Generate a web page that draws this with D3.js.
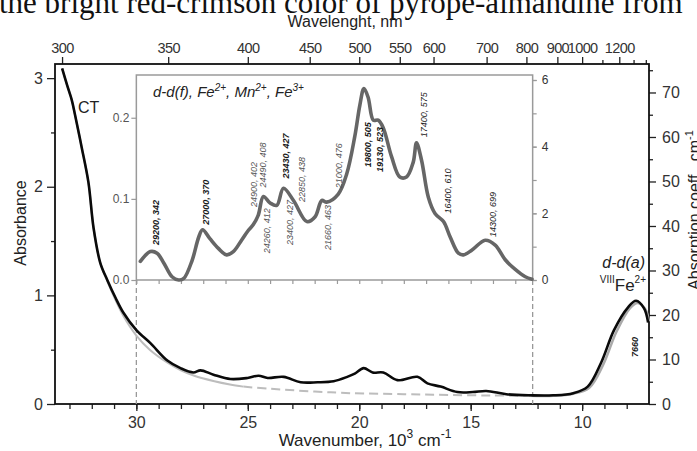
<!DOCTYPE html>
<html>
<head>
<meta charset="utf-8">
<script src="https://cdn.jsdelivr.net/npm/d3@7"></script>
<style>
body { margin: 0; background: #fff; }
text { font-family: Arial, 'Liberation Sans', sans-serif; }
</style>
</head>
<body>
<script>
/* global d3 */

// measured spectrum (wavenumber 10^3 cm-1, absorbance)
const mainWn = [33.33, 33.10, 32.90, 32.75, 32.45, 32.15, 31.92, 31.62, 31.30, 30.94, 30.58, 30.00, 29.37, 28.61, 28.02, 27.44, 27.12, 26.54, 25.78, 25.01, 24.52, 24.11, 23.39, 22.63, 21.87, 21.15, 20.54, 20.20, 19.80, 19.40, 18.92, 18.29, 17.39, 16.94, 16.35, 15.60, 14.90, 14.30, 13.40, 12.30, 11.30, 10.40, 9.75, 9.15, 8.57, 7.94, 7.58, 7.22, 7.04]
const mainAbs = [3.09, 2.93, 2.80, 2.66, 2.36, 2.04, 1.62, 1.30, 1.14, 0.98, 0.84, 0.68, 0.56, 0.40, 0.33, 0.29, 0.31, 0.27, 0.23, 0.24, 0.26, 0.24, 0.25, 0.20, 0.20, 0.21, 0.25, 0.28, 0.33, 0.29, 0.29, 0.22, 0.25, 0.19, 0.16, 0.11, 0.11, 0.12, 0.09, 0.08, 0.08, 0.10, 0.16, 0.38, 0.68, 0.89, 0.95, 0.88, 0.75]

// smooth background (solid / dashed / solid)
const fitWn = [33.33, 33.10, 32.90, 32.75, 32.45, 32.15, 31.92, 31.62, 31.30, 30.94, 30.58, 30.00, 29.40, 28.60, 28.00, 27.40, 26.50, 25.80, 25.20]
const fitAbs = [3.09, 2.93, 2.80, 2.66, 2.36, 2.04, 1.62, 1.30, 1.13, 0.96, 0.81, 0.63, 0.50, 0.38, 0.31, 0.26, 0.21, 0.18, 0.16]
const dashWn = [25.20, 24.00, 22.00, 20.40, 18.00, 16.00, 14.00, 12.40]
const dashAbs = [0.16, 0.14, 0.115, 0.10, 0.09, 0.083, 0.078, 0.076]
const tailWn = [12.40, 11.30, 10.40, 9.68, 9.06, 8.47, 7.86, 7.50, 7.16, 7.00]
const tailAbs = [0.076, 0.075, 0.095, 0.15, 0.36, 0.66, 0.88, 0.93, 0.87, 0.76]

// inset difference spectrum
const insetWn = [29.82, 29.37, 29.07, 28.77, 28.40, 28.10, 27.87, 27.50, 27.20, 27.03, 26.70, 26.32, 25.95, 25.65, 25.28, 24.98, 24.76, 24.53, 24.30, 24.00, 23.70, 23.40, 22.95, 22.35, 21.98, 21.68, 21.46, 20.94, 20.56, 20.20, 19.97, 19.79, 19.60, 19.37, 19.15, 18.93, 18.55, 18.18, 17.88, 17.58, 17.43, 17.20, 16.90, 16.60, 16.22, 15.92, 15.55, 15.32, 14.94, 14.35, 13.90, 13.45, 13.00, 12.55, 12.25]
const insetAbs = [0.023, 0.035, 0.033, 0.021, 0.004, 0.000, 0.002, 0.024, 0.053, 0.062, 0.051, 0.039, 0.031, 0.035, 0.049, 0.061, 0.068, 0.080, 0.103, 0.095, 0.092, 0.113, 0.098, 0.072, 0.078, 0.098, 0.096, 0.106, 0.131, 0.177, 0.216, 0.236, 0.225, 0.197, 0.197, 0.188, 0.152, 0.127, 0.127, 0.145, 0.169, 0.147, 0.102, 0.082, 0.072, 0.053, 0.033, 0.031, 0.037, 0.049, 0.043, 0.025, 0.013, 0.004, 0.001]

// peak annotations in the inset: text, wavenumber, level where the label starts
const peakText = ['29200, 342', '27000, 370', '24900, 402', '24490, 408', '24260, 412', '23430, 427', '23400, 427', '22850, 438', '21660, 463', '21000, 476', '19800, 505', '19130, 523', '17400, 575', '16400, 610', '14300, 699']
const peakWn = [29.2, 27.0, 24.9, 24.49, 24.26, 23.43, 23.4, 22.85, 21.66, 21.0, 19.8, 19.13, 17.4, 16.4, 14.3]
const peakLevel = [0.043, 0.068, 0.090, 0.114, 0.033, 0.125, 0.043, 0.096, 0.037, 0.113, 0.139, 0.133, 0.176, 0.082, 0.053]

// tick values
const wnTicks = [30, 25, 20, 15, 10]
const absTicks = [0, 1, 2, 3]
const coeffTicks = [0, 10, 20, 30, 40, 50, 60, 70]
const nmTicks = [300, 350, 400, 450, 500, 550, 600, 700, 800, 900, 1000, 1200]
const nmMinor = [1100, 1300, 1400]
const insetLeftTicks = [0, 0.1, 0.2]
const insetRightTicks = [0, 2, 4, 6]

const width = 697, height = 451

const svg = d3.select('body')
    .append('svg')
    .attr('width', width)
    .attr('height', height)
    .style('background', '#fff')

const x = d3.scaleLinear().domain([33.65, 7.0]).range([55, 649])
const yAbs = d3.scaleLinear().domain([0, 3.13]).range([404, 64])
const yCoeff = d3.scaleLinear().domain([0, 76.4]).range([404, 64])
const yIn = d3.scaleLinear().domain([0, 0.2527]).range([280, 75])
const yInR = d3.scaleLinear().domain([0, 6.15]).range([280, 75])

// caption cut by the top edge
svg.append('text')
    .attr('x', -1).attr('y', 13)
    .style('font-family', "'Liberation Serif', 'Times New Roman', serif")
    .style('font-size', '31px')
    .attr('fill', '#111')
    .text('the bright red-crimson color of pyrope-almandine from')

let styleAxis = (g, size) => {
    g.select('.domain').remove()
    g.selectAll('line').attr('stroke', '#222').attr('stroke-width', 1.3)
    g.selectAll('text').attr('fill', '#333').style('font-size', size + 'px')
}

// main axes
svg.append('g').attr('transform', 'translate(0,404)')
    .call(d3.axisBottom(x).tickValues(d3.range(8, 34)).tickFormat('').tickSize(5).tickSizeOuter(0))
    .call(g => styleAxis(g, 16))
svg.append('g').attr('transform', 'translate(0,404)')
    .call(d3.axisBottom(x).tickValues(wnTicks).tickFormat(d3.format('d')).tickSize(7).tickPadding(6).tickSizeOuter(0))
    .call(g => styleAxis(g, 16))

svg.append('g').attr('transform', 'translate(0,64)')
    .call(d3.axisTop(x).tickValues(nmMinor.map(n => 1e4 / n)).tickFormat('').tickSize(4).tickSizeOuter(0))
    .call(g => styleAxis(g, 15))
svg.append('g').attr('transform', 'translate(0,64)')
    .call(d3.axisTop(x).tickValues(nmTicks.map(n => 1e4 / n)).tickFormat(v => Math.round(1e4 / v)).tickSize(7).tickPadding(4).tickSizeOuter(0))
    .call(g => styleAxis(g, 14.5))
    .call(g => g.selectAll('text').attr('letter-spacing', '-0.6px'))

svg.append('g').attr('transform', 'translate(55,0)')
    .call(d3.axisLeft(yAbs).tickValues([0.5, 1.5, 2.5]).tickFormat('').tickSize(4).tickSizeOuter(0))
    .call(g => styleAxis(g, 16))
svg.append('g').attr('transform', 'translate(55,0)')
    .call(d3.axisLeft(yAbs).tickValues(absTicks).tickFormat(d3.format('d')).tickSize(8).tickPadding(4).tickSizeOuter(0))
    .call(g => styleAxis(g, 16))

svg.append('g').attr('transform', 'translate(649,0)')
    .call(d3.axisRight(yCoeff).tickValues(d3.range(5, 80, 10)).tickFormat('').tickSize(4).tickSizeOuter(0))
    .call(g => styleAxis(g, 16))
svg.append('g').attr('transform', 'translate(649,0)')
    .call(d3.axisRight(yCoeff).tickValues(coeffTicks).tickFormat(d3.format('d')).tickSize(7).tickPadding(6).tickSizeOuter(0))
    .call(g => styleAxis(g, 16))

// frame
svg.append('rect')
    .attr('x', 55).attr('y', 64).attr('width', 594).attr('height', 340)
    .attr('fill', 'none').attr('stroke', '#111').attr('stroke-width', 1.8)

// axis titles
svg.append('text')
    .attr('x', 345).attr('y', 27)
    .attr('text-anchor', 'middle')
    .style('font-size', '16px').attr('fill', '#222')
    .text('Wavelenght, nm')

let bottomTitle = svg.append('text')
    .attr('x', 365).attr('y', 446)
    .attr('text-anchor', 'middle')
    .style('font-size', '17px').attr('fill', '#222')
bottomTitle.append('tspan').text('Wavenumber, 10')
bottomTitle.append('tspan').attr('dy', -8).style('font-size', '12px').text('3')
bottomTitle.append('tspan').attr('dy', 8).text(' cm')
bottomTitle.append('tspan').attr('dy', -8).style('font-size', '12px').text('-1')

svg.append('text')
    .attr('transform', 'translate(26,223) rotate(-90)')
    .attr('text-anchor', 'middle')
    .style('font-size', '16px').attr('fill', '#222')
    .text('Absorbance')

let rightTitle = svg.append('text')
    .attr('transform', 'translate(700,210) rotate(-90)')
    .attr('text-anchor', 'middle')
    .style('font-size', '16px').attr('fill', '#222')
rightTitle.append('tspan').text('Absorption coeff., cm')
rightTitle.append('tspan').attr('dy', -7).style('font-size', '11px').text('-1')

// dashed guides from the inset to the wavenumber axis
svg.selectAll('line.guide')
    .data([30, 12.22])
    .enter()
    .append('line')
    .attr('class', 'guide')
    .attr('x1', d => x(d)).attr('x2', d => x(d))
    .attr('y1', 280).attr('y2', 404)
    .attr('stroke', '#999').attr('stroke-width', 1.3)
    .attr('stroke-dasharray', '5,3')

// main curves
let line = (xs, ys) => d3.line()
    .x(d => x(d))
    .y((d, i) => yAbs(ys[i]))
    .curve(d3.curveCatmullRom.alpha(0.5))(xs)

svg.append('path').attr('d', line(fitWn, fitAbs))
    .attr('fill', 'none').attr('stroke', '#bdbdbd').attr('stroke-width', 2)
svg.append('path').attr('d', line(dashWn, dashAbs))
    .attr('fill', 'none').attr('stroke', '#bdbdbd').attr('stroke-width', 2)
    .attr('stroke-dasharray', '9,5')
svg.append('path').attr('d', line(tailWn, tailAbs))
    .attr('fill', 'none').attr('stroke', '#aaa').attr('stroke-width', 2.5)
svg.append('path').attr('d', line(mainWn, mainAbs))
    .attr('fill', 'none').attr('stroke', '#0a0a0a').attr('stroke-width', 2.6)

// inset frame
const insetL = x(30), insetR = x(12.22)
svg.append('rect')
    .attr('x', insetL).attr('y', 75).attr('width', insetR - insetL).attr('height', 205)
    .attr('fill', '#fff').attr('stroke', '#9a9a9a').attr('stroke-width', 1.5)

let styleInset = (g) => {
    g.select('.domain').remove()
    g.selectAll('line').attr('stroke', '#9a9a9a').attr('stroke-width', 1.2)
    g.selectAll('text').attr('fill', '#555').style('font-size', '12px')
}

svg.append('g').attr('transform', 'translate(0,280)')
    .call(d3.axisBottom(x).tickValues(d3.range(13, 31)).tickFormat('').tickSize(4).tickSizeOuter(0))
    .call(styleInset)
svg.append('g').attr('transform', 'translate(' + insetL + ',0)')
    .call(d3.axisLeft(yIn).tickValues(insetLeftTicks).tickFormat(d3.format('.1f')).tickSize(5).tickPadding(2).tickSizeOuter(0))
    .call(styleInset)
svg.append('g').attr('transform', 'translate(' + insetR + ',0)')
    .call(d3.axisRight(yInR).tickValues(d3.range(0, 7)).tickFormat('').tickSize(4).tickSizeOuter(0))
    .call(styleInset)
svg.append('g').attr('transform', 'translate(' + insetR + ',0)')
    .call(d3.axisRight(yInR).tickValues(insetRightTicks).tickFormat(d3.format('d')).tickSize(4).tickPadding(5).tickSizeOuter(0))
    .call(styleInset)
    .call(g => g.selectAll('text').attr('fill', '#333'))

svg.append('path')
    .attr('d', d3.line()
        .x(d => x(d))
        .y((d, i) => yIn(insetAbs[i]))
        .curve(d3.curveCatmullRom.alpha(0.5))(insetWn))
    .attr('fill', 'none').attr('stroke', '#666').attr('stroke-width', 3.6)
    .attr('stroke-linejoin', 'round').attr('stroke-linecap', 'round')

// inset title
let insetTitle = svg.append('text')
    .attr('x', 153).attr('y', 97)
    .style('font-size', '15px').style('font-style', 'italic').attr('fill', '#222')
insetTitle.append('tspan').text('d-d(f), Fe')
insetTitle.append('tspan').attr('dy', -6).style('font-size', '10px').text('2+')
insetTitle.append('tspan').attr('dy', 6).text(', Mn')
insetTitle.append('tspan').attr('dy', -6).style('font-size', '10px').text('2+')
insetTitle.append('tspan').attr('dy', 6).text(', Fe')
insetTitle.append('tspan').attr('dy', -6).style('font-size', '10px').text('3+')

// peak labels, nudged right of their peak like the original
const peakDx = [4.5, 5.5, 6.7, 6.9, 5.8, 6.3, 9.7, 9.3, 8.7, 5, 7.3, 4.4, 9.8, 11.5, 9.8]
const boldPeaks = new Set(['29200, 342', '27000, 370', '23430, 427', '19800, 505', '19130, 523'])
const darkPeaks = new Set(['17400, 575', '16400, 610', '14300, 699'])
svg.selectAll('text.peak')
    .data(peakText)
    .enter()
    .append('text')
    .attr('class', 'peak')
    .attr('transform', (d, i) => 'translate(' + (x(peakWn[i]) + peakDx[i]) + ',' + yIn(peakLevel[i]) + ') rotate(-90)')
    .style('font-size', '9px')
    .style('font-style', 'italic')
    .style('font-weight', d => boldPeaks.has(d) ? 'bold' : 'normal')
    .attr('fill', d => boldPeaks.has(d) || darkPeaks.has(d) ? '#1a1a1a' : '#555')
    .text(d => d)

// main annotations
svg.append('text')
    .attr('x', 78).attr('y', 113)
    .style('font-size', '16px').attr('fill', '#222')
    .text('CT')

svg.append('text')
    .attr('x', 645).attr('y', 268)
    .attr('text-anchor', 'end')
    .style('font-size', '16px').style('font-style', 'italic').attr('fill', '#222')
    .text('d-d(a)')

let feLabel = svg.append('text')
    .attr('x', 646).attr('y', 291)
    .attr('text-anchor', 'end')
    .style('font-size', '17px').attr('fill', '#222')
feLabel.append('tspan').attr('dy', -8).style('font-size', '10px').text('VIII')
feLabel.append('tspan').attr('dy', 8).text('Fe')
feLabel.append('tspan').attr('dy', -8).style('font-size', '10px').text('2+')

svg.append('text')
    .attr('transform', 'translate(' + (x(7.66) + 4) + ',347) rotate(-90)')
    .attr('text-anchor', 'middle')
    .style('font-size', '9px').style('font-style', 'italic').style('font-weight', 'bold')
    .attr('fill', '#1a1a1a')
    .text('7660')
</script>
</body>
</html>
